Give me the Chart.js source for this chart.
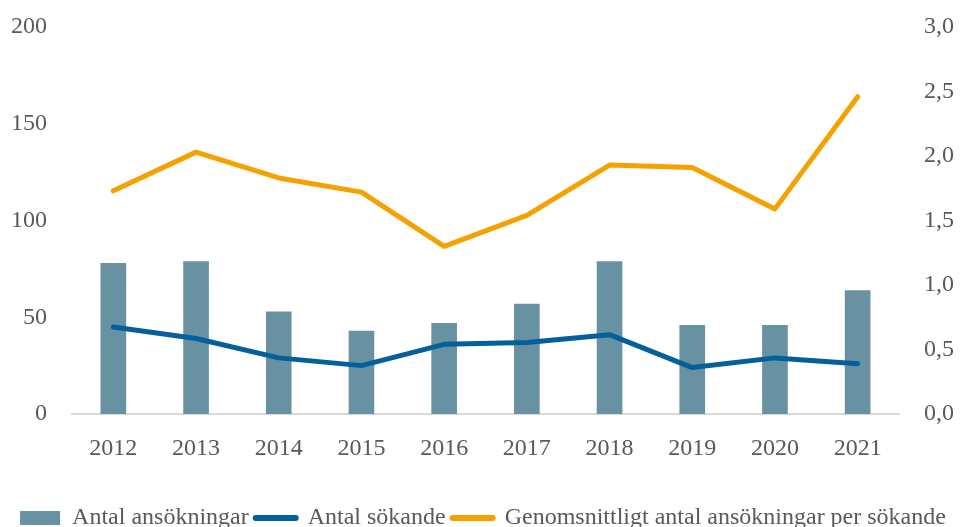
<!DOCTYPE html>
<html>
<head>
<meta charset="utf-8">
<script src="https://cdn.jsdelivr.net/npm/chart.js@4"></script>
<style>
  html, body { margin: 0; padding: 0; background: #ffffff; }
  #wrap { width: 966px; height: 527px; position: relative; }
</style>
</head>
<body>
<div id="wrap"><canvas id="c"></canvas></div>
<script>
const years = ['2012','2013','2014','2015','2016','2017','2018','2019','2020','2021'];
const antalAnsokningar = [78, 79, 53, 43, 47, 57, 79, 46, 46, 64];
const antalSokande = [45, 39, 29, 25, 36, 37, 41, 24, 29, 26];
const genomsnitt = [1.73, 2.03, 1.83, 1.72, 1.30, 1.54, 1.93, 1.91, 1.59, 2.46];
const seriesNames = ['Antal ansökningar', 'Antal sökande', 'Genomsnittligt antal ansökningar per sökande'];

const textColor = '#595959';
const fontFamily = '"Liberation Serif", "DejaVu Serif", serif';

new Chart(document.getElementById('c'), {
  data: {
    labels: years,
    datasets: [
      {
        type: 'bar', label: seriesNames[0], data: antalAnsokningar,
        backgroundColor: '#6891a2', yAxisID: 'y', order: 3,
        barPercentage: 0.31, categoryPercentage: 1.0
      },
      {
        type: 'line', label: seriesNames[1], data: antalSokande,
        borderColor: '#03609a', backgroundColor: '#03609a', borderWidth: 5,
        pointRadius: 0, tension: 0, borderCapStyle: 'round', borderJoinStyle: 'round',
        yAxisID: 'y', order: 2
      },
      {
        type: 'line', label: seriesNames[2], data: genomsnitt,
        borderColor: '#f5a100', backgroundColor: '#f5a100', borderWidth: 5,
        pointRadius: 0, tension: 0, borderCapStyle: 'round', borderJoinStyle: 'round',
        yAxisID: 'y1', order: 1
      }
    ]
  },
  options: {
    responsive: true,
    maintainAspectRatio: false,
    animation: false,
    layout: { padding: { top: 27, left: 0, right: 0, bottom: -13 } },
    plugins: {
      tooltip: { enabled: false },
      legend: {
        position: 'bottom',
        labels: {
          color: textColor,
          font: { family: fontFamily, size: 24 },
          usePointStyle: true,
          pointStyleWidth: 40,
          boxHeight: 14,
          padding: 7,
          generateLabels: (chart) => chart.data.datasets.map((ds, i) => ({
            text: ds.label,
            fillStyle: ds.type === 'bar' ? ds.backgroundColor : ds.borderColor,
            strokeStyle: ds.type === 'bar' ? ds.backgroundColor : ds.borderColor,
            lineWidth: ds.type === 'bar' ? 0 : 6,
            lineCap: 'round',
            pointStyle: ds.type === 'bar' ? 'rect' : 'line',
            fontColor: textColor,
            hidden: false,
            datasetIndex: i
          }))
        }
      }
    },
    scales: {
      x: {
        grid: { display: false, drawTicks: false },
        border: { display: true, color: '#d9d9d9', width: 2 },
        ticks: { color: textColor, font: { family: fontFamily, size: 24 }, padding: 20 },
        afterFit: (s) => { s.height = 85; }
      },
      y: {
        position: 'left', min: 0, max: 200,
        grid: { display: false, drawTicks: false },
        border: { display: false },
        ticks: { stepSize: 50, color: textColor, font: { family: fontFamily, size: 24 }, padding: 25 },
        afterFit: (s) => { s.width = 72; s.paddingTop = 0; s.paddingBottom = 0; }
      },
      y1: {
        position: 'right', min: 0, max: 3,
        grid: { display: false, drawTicks: false },
        border: { display: false },
        ticks: {
          stepSize: 0.5, color: textColor, font: { family: fontFamily, size: 24 }, padding: 25,
          callback: (v) => v.toFixed(1).replace('.', ',')
        },
        afterFit: (s) => { s.width = 67; s.paddingTop = 0; s.paddingBottom = 0; }
      }
    }
  }
});
</script>
</body>
</html>
